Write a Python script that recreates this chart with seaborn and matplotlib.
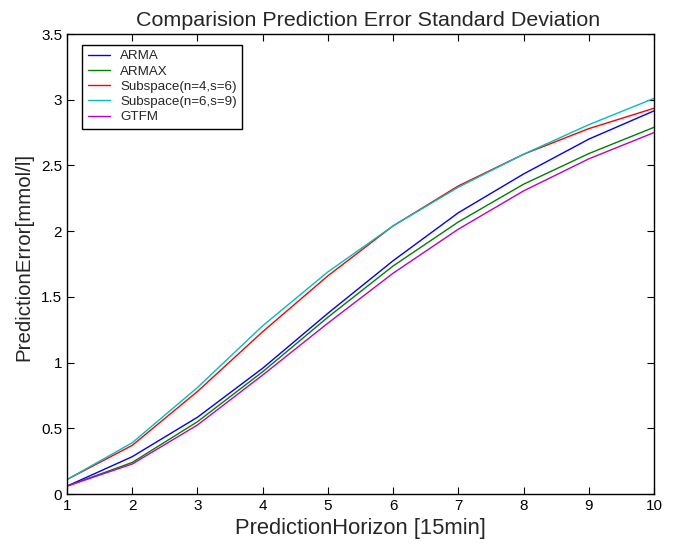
import matplotlib
matplotlib.use("Agg")
import matplotlib.pyplot as plt
import seaborn as sns
import pandas as pd

horizon = [1, 2, 3, 4, 5, 6, 7, 8, 9, 10]
arma = [0.06, 0.284, 0.584, 0.957, 1.375, 1.775, 2.14, 2.435, 2.70, 2.915]
armax = [0.06, 0.24, 0.55, 0.93, 1.345, 1.735, 2.07, 2.357, 2.59, 2.79]
sub46 = [0.11, 0.37, 0.78, 1.235, 1.66, 2.04, 2.344, 2.585, 2.78, 2.935]
sub69 = [0.11, 0.39, 0.81, 1.28, 1.69, 2.04, 2.334, 2.585, 2.81, 3.01]
gtfm = [0.06, 0.228, 0.525, 0.905, 1.30, 1.68, 2.015, 2.306, 2.55, 2.75]
names = ["ARMA", "ARMAX", "Subspace(n=4,s=6)", "Subspace(n=6,s=9)", "GTFM"]
series = [arma, armax, sub46, sub69, gtfm]
colors = ["#0000ff", "#008000", "#ff0000", "#00bfbf", "#bf00bf"]

rows = []
for n, vals in zip(names, series):
    for h, v in zip(horizon, vals):
        rows.append({"h": h, "err": v, "method": n})
df = pd.DataFrame(rows)

sns.set_style("ticks")
plt.rcParams["font.family"] = ["Liberation Sans", "DejaVu Sans"]

fig = plt.figure(figsize=(6.75, 5.45), dpi=100)
ax = fig.add_axes([67/675, 1-494/545, (654-67)/675, (494-34)/545])
sns.lineplot(data=df, x="h", y="err", hue="method", hue_order=names,
             palette=dict(zip(names, colors)), linewidth=1.0, ax=ax)

ax.set_xlim(1, 10)
ax.set_ylim(0, 3.5)
ax.set_xticks(horizon)
ax.set_xticklabels([str(h) for h in horizon])
yt = [0, 0.5, 1, 1.5, 2, 2.5, 3, 3.5]
ax.set_yticks(yt)
ax.set_yticklabels(["0", "0.5", "1", "1.5", "2", "2.5", "3", "3.5"])
ax.tick_params(direction="in", top=True, right=True, labelsize=11, length=5, width=0.8, colors="black")
for s in ax.spines.values():
    s.set_visible(True)
    s.set_color("black")
    s.set_linewidth(1.0)
ax.set_xlabel("PredictionHorizon [15min]", fontsize=15.8, labelpad=4)
ax.set_ylabel("PredictionError[mmol/l]", fontsize=14.8)
ax.yaxis.set_label_coords(-0.058, 0.516)
ax.set_title("Comparision Prediction Error Standard Deviation", fontsize=15.45, pad=6, x=0.5136)

leg = ax.legend(loc="upper left", bbox_to_anchor=(0.026, 0.977), fontsize=9.6,
                frameon=True, fancybox=False, edgecolor="black", framealpha=1,
                handlelength=1.7, labelspacing=0.22, borderpad=0.4, handletextpad=0.75,
                borderaxespad=0)
leg.get_frame().set_linewidth(1.0)

fig.savefig("out.png", dpi=100)
